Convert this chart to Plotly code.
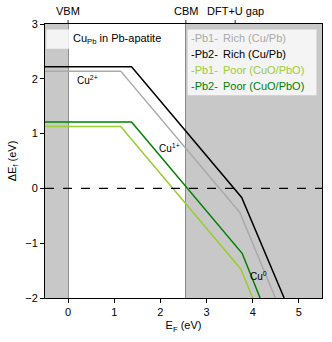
import plotly.graph_objects as go

# ---- data ----
vbm = 0.0
cbm = 2.55
dftu_gap = 3.62
x_range = [-0.5, 5.5]
y_range = [-2, 3]
x_ticks = [0, 1, 2, 3, 4, 5]
y_ticks = [-2, -1, 0, 1, 2, 3]

pb1_rich_x = [-0.5, 1.14, 3.72, 4.49]
pb1_rich_y = [2.14, 2.14, -0.44, -2.0]
pb2_rich_x = [-0.5, 1.375, 3.76, 4.68]
pb2_rich_y = [2.22, 2.22, -0.165, -2.0]
pb1_poor_x = [-0.5, 1.14, 3.74, 4.0]
pb1_poor_y = [1.13, 1.13, -1.47, -2.0]
pb2_poor_x = [-0.5, 1.375, 3.77, 4.16]
pb2_poor_y = [1.21, 1.21, -1.185, -2.0]

series = [
    ("-Pb1-", "Rich (Cu/Pb)", "#aaaaaa", pb1_rich_x, pb1_rich_y),
    ("-Pb2-", "Rich (Cu/Pb)", "#000000", pb2_rich_x, pb2_rich_y),
    ("-Pb1-", "Poor (CuO/PbO)", "#9acd32", pb1_poor_x, pb1_poor_y),
    ("-Pb2-", "Poor (CuO/PbO)", "#008000", pb2_poor_x, pb2_poor_y),
]

FONT = "Liberation Sans, Arial, sans-serif"
fig = go.Figure()

for tag, name, col, xs, ys in series:
    fig.add_trace(go.Scatter(x=xs, y=ys, mode="lines", line=dict(color=col, width=1.5),
                             showlegend=False, hoverinfo="skip"))

shapes = []
# gray regions
shapes.append(dict(type="rect", xref="x", yref="y", x0=x_range[0], x1=vbm, y0=y_range[0], y1=y_range[1],
                   fillcolor="#c8c8c8", line=dict(width=0), layer="below"))
shapes.append(dict(type="rect", xref="x", yref="y", x0=cbm, x1=x_range[1], y0=y_range[0], y1=y_range[1],
                   fillcolor="#c8c8c8", line=dict(width=0), layer="below"))
# vertical lines
for xv in [vbm, cbm, dftu_gap]:
    shapes.append(dict(type="line", xref="x", yref="paper", x0=xv, x1=xv, y0=0, y1=1.015,
                       line=dict(color="#555555", width=1.2), layer="below"))
# zero dashed line
shapes.append(dict(type="line", xref="paper", yref="y", x0=0, x1=1, y0=0, y1=0,
                   line=dict(color="#000000", width=1.2, dash="dash")))
# legend boxes
shapes.append(dict(type="rect", xref="paper", yref="paper", x0=0.005, x1=0.49, y0=0.91, y1=0.98,
                   fillcolor="rgba(255,255,255,0.8)", line=dict(width=0)))
shapes.append(dict(type="rect", xref="paper", yref="paper", x0=0.515, x1=0.98, y0=0.74, y1=0.98,
                   fillcolor="rgba(255,255,255,0.8)", line=dict(width=0)))

ann = []
ann.append(dict(text="Cu<sub>Pb</sub> in Pb-apatite", x=0.095, y=0.945, xref="paper", yref="paper",
                xanchor="left", yanchor="middle", showarrow=False, font=dict(size=11, color="#000")))
ys_leg = [0.948, 0.89, 0.832, 0.774]
for (tag, name, col, xs, ys), yl in zip(series, ys_leg):
    ann.append(dict(text=tag, x=0.52, y=yl, xref="paper", yref="paper", xanchor="left", yanchor="middle",
                    showarrow=False, font=dict(size=11, color=col)))
    ann.append(dict(text=name, x=0.635, y=yl, xref="paper", yref="paper", xanchor="left", yanchor="middle",
                    showarrow=False, font=dict(size=11, color=col)))
# top labels
for txt, xv in [("VBM", vbm), ("CBM", cbm), ("DFT+U gap", dftu_gap)]:
    ann.append(dict(text=txt, x=xv, y=1.02, xref="x", yref="paper", xanchor="center", yanchor="bottom",
                    showarrow=False, font=dict(size=11, color="#000")))
# charge state labels
ann.append(dict(text="Cu<sup>2+</sup>", x=0.42, y=1.98, xref="x", yref="y", showarrow=False,
                font=dict(size=10, color="#000")))
ann.append(dict(text="Cu<sup>1+</sup>", x=2.2, y=0.73, xref="x", yref="y", showarrow=False,
                font=dict(size=10, color="#000")))
ann.append(dict(text="Cu<sup>0</sup>", x=4.12, y=-1.6, xref="x", yref="y", showarrow=False,
                font=dict(size=10, color="#000")))

axis_common = dict(showgrid=False, zeroline=False, showline=True, linecolor="#000", linewidth=1,
                   mirror=True, ticks="outside", ticklen=4, tickcolor="#000", automargin=False)

fig.update_layout(
    width=332, height=342,
    margin=dict(l=45, r=10, t=24, b=44),
    plot_bgcolor="white", paper_bgcolor="white",
    font=dict(family=FONT, size=11, color="#000"),
    shapes=shapes, annotations=ann,
    xaxis=dict(range=x_range, tickvals=x_ticks,
               title=dict(text="E<sub>F</sub> (eV)", standoff=4, font=dict(size=11)), **axis_common),
    yaxis=dict(range=y_range, tickvals=y_ticks,
               ticktext=[str(v).replace("-", "\u2212") for v in y_ticks],
               title=dict(text="\u0394E<sub>f</sub> (eV)", standoff=6, font=dict(size=11)), **axis_common),
)
fig.write_html("out.html", config={"displayModeBar": False},
               post_script="document.body.style.margin='0';document.body.style.padding='0';")
